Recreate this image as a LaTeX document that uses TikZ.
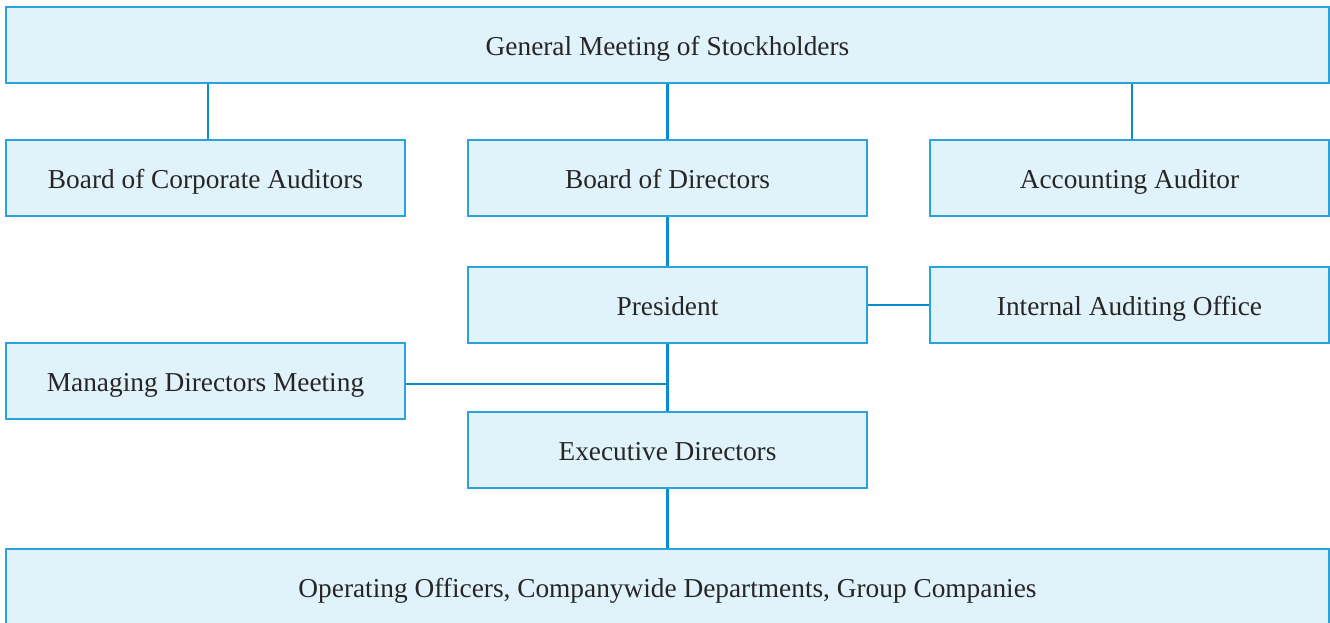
\documentclass[tikz,border=0pt]{standalone}
\usepackage{fontspec}
\setmainfont{Liberation Serif}
\definecolor{boxfill}{HTML}{E0F2FA}
\definecolor{boxline}{HTML}{2AA3DD}
\definecolor{conn}{HTML}{0A8CD0}
\begin{document}
\begin{tikzpicture}[x=0.75pt,y=-0.75pt,
  orgbox/.style={draw=boxline,fill=boxfill,line width=1.1pt,inner sep=0pt,
    font=\fontsize{20.5}{24}\selectfont,text=black!85,text height=17pt,text depth=2pt},
  link/.style={draw=conn,line width=2pt}]
\useasboundingbox (0,0) rectangle (1330,622);
\node[orgbox,minimum width=1323*0.75pt,minimum height=76*0.75pt] (gm) at (667.5,45) {General Meeting of Stockholders};
\node[orgbox,minimum width=399*0.75pt,minimum height=76*0.75pt] (bca) at (205.5,178) {Board of Corporate Auditors};
\node[orgbox,minimum width=399*0.75pt,minimum height=76*0.75pt] (bod) at (667.5,178) {Board of Directors};
\node[orgbox,minimum width=399*0.75pt,minimum height=76*0.75pt] (aa) at (1129.5,178) {Accounting Auditor};
\node[orgbox,minimum width=399*0.75pt,minimum height=76*0.75pt] (pres) at (667.5,305) {President};
\node[orgbox,minimum width=399*0.75pt,minimum height=76*0.75pt] (iao) at (1129.5,305) {Internal Auditing Office};
\node[orgbox,minimum width=399*0.75pt,minimum height=76*0.75pt] (mdm) at (205.5,381) {Managing Directors Meeting};
\node[orgbox,minimum width=399*0.75pt,minimum height=76*0.75pt] (ed) at (667.5,450) {Executive Directors};
\node[orgbox,minimum width=1323*0.75pt,minimum height=76*0.75pt] (oo) at (667.5,587) {Operating Officers, Companywide Departments, Group Companies};
\coordinate (j) at (667.5,384);
\path[link] (bca.north -| 208,0) -- (gm.south -| 208,0);
\path[link] (bod.north) -- (gm.south -| bod.north);
\path[link] (aa.north -| 1132,0) -- (gm.south -| 1132,0);
\path[link] (bod.south) -- (pres.north);
\path[link] (pres.east) -- (iao.west);
\path[link] (pres.south) -- (ed.north);
\path[link] (mdm.east |- j) -- (j);
\path[link] (ed.south) -- (oo.north -| ed.south);
\end{tikzpicture}
\end{document}
